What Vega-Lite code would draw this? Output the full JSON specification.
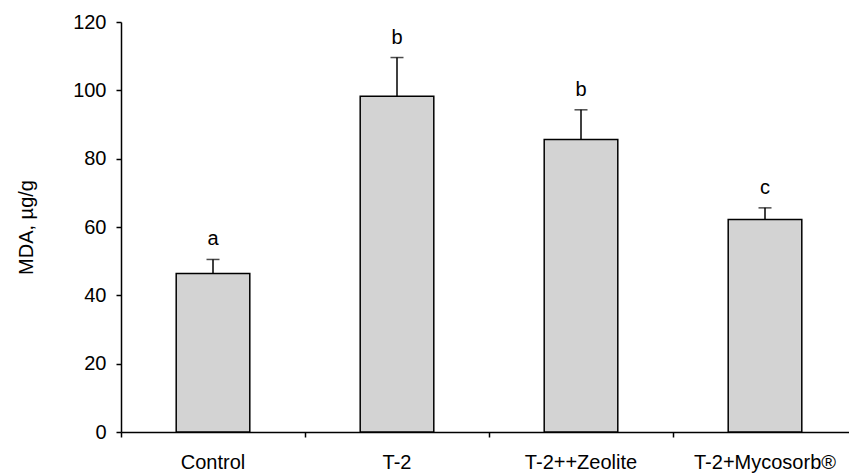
{
  "$schema": "https://vega.github.io/schema/vega-lite/v6.json",
  "width": 736,
  "height": 410,
  "autosize": "none",
  "padding": {"left": 121, "top": 22, "right": 0, "bottom": 42},
  "background": "white",
  "config": {"view": {"stroke": null}, "font": "Liberation Sans"},
  "data": {
    "values": [
      {"group": "Control", "mean": 46.4, "upper": 50.5, "letter": "a"},
      {"group": "T-2", "mean": 98.3, "upper": 109.6, "letter": "b"},
      {"group": "T-2++Zeolite", "mean": 85.6, "upper": 94.3, "letter": "b"},
      {"group": "T-2+Mycosorb®", "mean": 62.2, "upper": 65.6, "letter": "c"}
    ]
  },
  "encoding": {
    "x": {
      "field": "group",
      "type": "nominal",
      "sort": null,
      "scale": {"paddingInner": 0, "paddingOuter": 0},
      "axis": {
        "title": null,
        "labelAngle": 0,
        "labelFontSize": 20,
        "labelColor": "black",
        "labelPadding": 15,
        "bandPosition": 0,
        "tickSize": 5,
        "tickColor": "black",
        "tickWidth": 1.5,
        "domainColor": "black",
        "domainWidth": 1.5
      }
    }
  },
  "layer": [
    {
      "mark": {"type": "bar", "fill": "#d3d3d3", "stroke": "black", "strokeWidth": 1.5, "width": {"band": 0.4}},
      "encoding": {
        "y": {
          "field": "mean",
          "type": "quantitative",
          "scale": {"domain": [0, 120], "nice": false},
          "axis": {
            "title": "MDA, µg/g",
            "titleFontSize": 20,
            "titleFontWeight": "normal",
            "titleColor": "black",
            "titlePadding": 36,
            "values": [0, 20, 40, 60, 80, 100, 120],
            "grid": false,
            "labelFontSize": 20,
            "labelColor": "black",
            "labelPadding": 10,
            "tickSize": 5,
            "tickColor": "black",
            "tickWidth": 1.5,
            "domainColor": "black",
            "domainWidth": 1.5
          }
        }
      }
    },
    {
      "mark": {"type": "rule", "stroke": "black", "strokeWidth": 1.5},
      "encoding": {
        "y": {"field": "mean", "type": "quantitative", "title": "MDA, µg/g"},
        "y2": {"field": "upper"}
      }
    },
    {
      "mark": {"type": "tick", "color": "black", "size": 13, "thickness": 1.5},
      "encoding": {
        "y": {"field": "upper", "type": "quantitative", "title": "MDA, µg/g"}
      }
    },
    {
      "mark": {"type": "text", "dy": -14, "baseline": "alphabetic", "fontSize": 20, "color": "black"},
      "encoding": {
        "y": {"field": "upper", "type": "quantitative", "title": "MDA, µg/g"},
        "text": {"field": "letter"}
      }
    }
  ]
}
